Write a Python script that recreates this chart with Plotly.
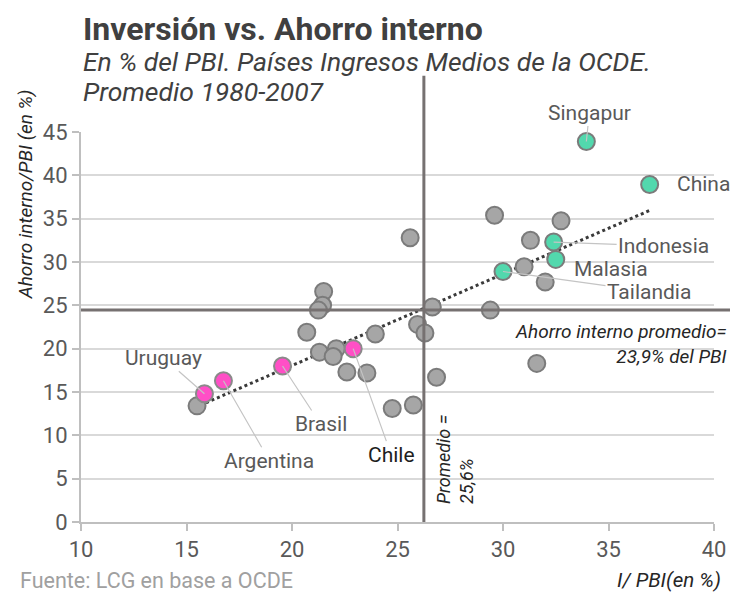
import plotly.graph_objects as go

# ---- data (I/PBI %, Ahorro interno/PBI %) ----
otros_inv = [25.6, 21.5, 21.45, 21.25, 26.65, 20.7, 25.95, 26.3, 23.95, 21.3, 22.1, 21.95,
             22.6, 23.55, 26.85, 15.5, 24.75, 25.75, 29.6, 32.75, 31.3, 31.0, 32.0, 29.4, 31.6]
otros_aho = [32.8, 26.6, 25.0, 24.45, 24.8, 21.9, 22.8, 21.8, 21.7, 19.6, 20.0, 19.1,
             17.3, 17.2, 16.7, 13.4, 13.1, 13.5, 35.4, 34.75, 32.5, 29.45, 27.7, 24.45, 18.3]

latam_paises = ["Uruguay", "Argentina", "Brasil", "Chile"]
latam_inv = [15.85, 16.75, 19.55, 22.9]
latam_aho = [14.8, 16.3, 18.0, 20.0]

asia_paises = ["Singapur", "China", "Indonesia", "Malasia", "Tailandia"]
asia_inv = [33.95, 36.95, 32.4, 32.5, 30.0]
asia_aho = [43.9, 38.95, 32.3, 30.3, 28.9]

trend_x = [15.4, 37.0]
trend_y = [13.2, 36.0]

prom_inv = 26.25   # drawn position of the average investment line
prom_aho = 24.45   # drawn position of the average savings line

x_ticks = [10, 15, 20, 25, 30, 35, 40]
y_ticks = [0, 5, 10, 15, 20, 25, 30, 35, 40, 45]

FONT = "Roboto"
GRAY_FILL = "#a6a6a6"
EDGE = "#7b7b7b"

fig = go.Figure()

fig.add_trace(go.Scatter(x=trend_x, y=trend_y, mode="lines",
                         line=dict(color="#3a3a3a", width=3, dash="dot"),
                         hoverinfo="skip", showlegend=False))

fig.add_trace(go.Scatter(x=otros_inv, y=otros_aho, mode="markers",
                         marker=dict(size=17, color=GRAY_FILL, line=dict(color=EDGE, width=2)),
                         showlegend=False))

fig.add_trace(go.Scatter(x=latam_inv, y=latam_aho, mode="markers", text=latam_paises,
                         marker=dict(size=17, color="#ff4fc6", line=dict(color="#8a8a8a", width=2)),
                         showlegend=False))

fig.add_trace(go.Scatter(x=asia_inv, y=asia_aho, mode="markers", text=asia_paises,
                         marker=dict(size=17, color="#52d8ad", line=dict(color="#7b7b7b", width=2)),
                         showlegend=False))

# reference lines
fig.add_shape(type="line", xref="x", yref="paper", x0=prom_inv, x1=prom_inv, y0=0, y1=1.144,
              line=dict(color="#767171", width=3), layer="above")
fig.add_shape(type="line", xref="paper", yref="y", x0=0, x1=1.03, y0=prom_aho, y1=prom_aho,
              line=dict(color="#767171", width=3), layer="above")

ann = []
label_font = dict(family=FONT, size=21, color="#595959")
leader = "#c4c4c4"

# country labels: (dx, dy, arrow) offsets in px from the point
offsets = {
    "Uruguay": (-41, -36, True),
    "Argentina": (46, 80, True),
    "Brasil": (38, 58, True),
    "Chile": (38, 106, True),
    "Singapur": (3, -29, True),
    "China": (25, 0, False),
    "Indonesia": (110, 4, True),
    "Malasia": (16, 10, False),
    "Tailandia": (146, 20, True),
}
for names, xs, ys in [(latam_paises, latam_inv, latam_aho), (asia_paises, asia_inv, asia_aho)]:
    for n, xv, yv in zip(names, xs, ys):
        ax, ay, arrow = offsets[n]
        f = dict(label_font)
        if n == "Chile":
            f["color"] = "#1e1e1e"
        if arrow:
            ann.append(dict(x=xv, y=yv, xref="x", yref="y", text=n, showarrow=True,
                            arrowhead=0, arrowwidth=1.2, arrowcolor=leader, ax=ax, ay=ay,
                            font=f, standoff=0))
        else:
            ann.append(dict(x=xv, y=yv, xref="x", yref="y", text=n, showarrow=False,
                            xanchor="left", xshift=ax, yshift=-ay, font=f))

# titles and notes
ann += [
    dict(text="<b>Inversión vs. Ahorro interno</b>", xref="paper", yref="paper",
         x=0.0, y=1.265, xanchor="left", yanchor="middle", showarrow=False,
         font=dict(family=FONT, size=32, color="#404040")),
    dict(text="<i>En % del PBI. Países Ingresos Medios de la OCDE.</i>", xref="paper", yref="paper",
         x=0.0, y=1.180, xanchor="left", yanchor="middle", showarrow=False,
         font=dict(family=FONT, size=26.5, color="#404040")),
    dict(text="<i>Promedio 1980-2007</i>", xref="paper", yref="paper",
         x=0.0, y=1.103, xanchor="left", yanchor="middle", showarrow=False,
         font=dict(family=FONT, size=26.5, color="#404040")),
    dict(text="<i>Ahorro interno/PBI (en %)</i>", xref="paper", yref="paper",
         x=-0.088, y=0.841, xanchor="center", yanchor="middle", textangle=-90, showarrow=False,
         font=dict(family=FONT, size=19, color="#262626")),
    dict(text="<i>Promedio =<br>25,6%</i>", xref="paper", yref="paper",
         x=0.590, y=0.160, xanchor="center", yanchor="middle", textangle=-90, align="left",
         showarrow=False, font=dict(family=FONT, size=18, color="#262626")),
    dict(text="<i>Ahorro interno promedio=<br>23,9% del PBI</i>", xref="paper", yref="paper",
         x=1.024, y=0.456, xanchor="right", yanchor="middle", align="right", showarrow=False,
         font=dict(family=FONT, size=19, color="#262626")),
    dict(text="Fuente: LCG en base a OCDE", xref="paper", yref="paper",
         x=-0.100, y=-0.150, xanchor="left", yanchor="middle", showarrow=False,
         font=dict(family=FONT, size=21.5, color="#a0a0a0")),
    dict(text="<i>I/ PBI(en %)</i>", xref="paper", yref="paper",
         x=1.014, y=-0.148, xanchor="right", yanchor="middle", showarrow=False,
         font=dict(family=FONT, size=20.5, color="#262626")),
]

# the page body adds an 8px offset, so the figure is sized 8px smaller to fit the window
fig.update_layout(
    width=730, height=584,
    margin=dict(l=73, r=16, t=124, b=70),
    paper_bgcolor="white", plot_bgcolor="white",
    font=dict(family=FONT, size=21, color="#595959"),
    annotations=ann,
    showlegend=False,
)
fig.update_xaxes(range=[10, 40], tickvals=x_ticks, showgrid=False, zeroline=False,
                 showline=True, linecolor="#bfbfbf", linewidth=2,
                 ticks="outside", ticklen=7, tickcolor="#bfbfbf", tickwidth=2,
                 tickfont=dict(family=FONT, size=22, color="#595959"))
fig.update_yaxes(range=[0, 45], tickvals=y_ticks, showgrid=True, gridcolor="#d9d9d9", gridwidth=1.5,
                 zeroline=False, showline=True, linecolor="#bfbfbf", linewidth=2,
                 ticks="outside", ticklen=7, tickcolor="#bfbfbf", tickwidth=2,
                 tickfont=dict(family=FONT, size=22, color="#595959"))

fig.write_html("out.html")
